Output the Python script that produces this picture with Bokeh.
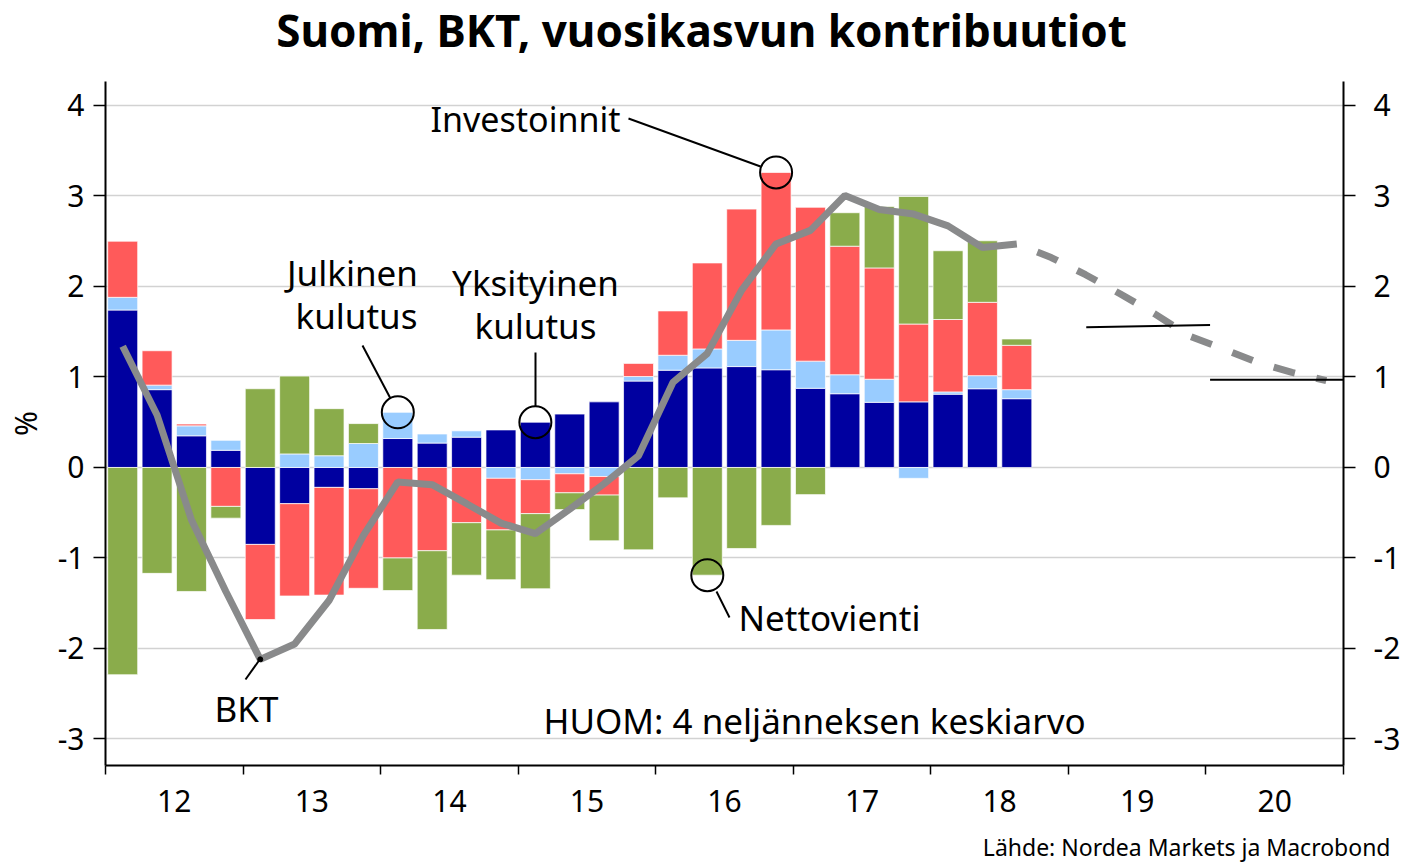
import numpy as np
from bokeh.plotting import figure
from bokeh.models import Range1d, LinearAxis, FixedTicker, Label, Grid, Title
from bokeh.layouts import column
from bokeh.embed import file_html
from bokeh.resources import INLINE

# ---------------- data ----------------
quarters = [f"{y}Q{q}" for y in range(2012, 2019) for q in range(1, 5)][:27]
yksityinen = [1.74, 0.86, 0.35, 0.19, -0.85, -0.40, -0.22, -0.235, 0.32, 0.27, 0.335, 0.415, 0.50,
              0.59, 0.725, 0.955, 1.075, 1.10, 1.115, 1.08, 0.875, 0.815, 0.72, 0.725, 0.81, 0.87, 0.76]
julkinen = [0.14, 0.05, 0.11, 0.11, 0.0, 0.15, 0.13, 0.265, 0.29, 0.10, 0.07, -0.12, -0.135,
            -0.07, -0.10, 0.05, 0.165, 0.21, 0.29, 0.44, 0.30, 0.21, 0.255, -0.12, 0.025, 0.145, 0.10]
investoinnit = [0.62, 0.38, 0.02, -0.43, -0.83, -1.02, -1.19, -1.10, -1.0, -0.92, -0.61, -0.57, -0.375,
                -0.21, -0.205, 0.145, 0.49, 0.95, 1.45, 1.74, 1.70, 1.42, 1.23, 0.86, 0.80, 0.81, 0.49]
nettovienti = [-2.29, -1.17, -1.37, -0.13, 0.87, 0.86, 0.52, 0.22, -0.36, -0.87, -0.58, -0.55, -0.83,
               -0.185, -0.505, -0.91, -0.335, -1.19, -0.895, -0.64, -0.30, 0.37, 0.68, 1.41, 0.76, 0.68, 0.07]
bkt = [1.34, 0.58, -0.58, -1.37, -2.12, -1.95, -1.47, -0.75, -0.16, -0.19, -0.40, -0.615, -0.73,
       -0.46, -0.18, 0.13, 0.94, 1.26, 1.96, 2.47, 2.62, 3.005, 2.85, 2.80, 2.67, 2.43, 2.47]
ennuste_quarters = ["2018Q3", "2018Q4", "2019Q1", "2019Q2", "2019Q3", "2019Q4",
                    "2020Q1", "2020Q2", "2020Q3", "2020Q4"]
bkt_ennuste = [2.47, 2.32, 2.13, 1.92, 1.70, 1.455, 1.31, 1.16, 1.05, 0.96]
vuosi_ennuste_vuosi = [2019, 2020]
vuosi_ennuste_alku = [1.55, 0.97]
vuosi_ennuste_loppu = [1.575, 0.97]
year_labels = ["12", "13", "14", "15", "16", "17", "18", "19", "20"]
y_ticks = [-3, -2, -1, 0, 1, 2, 3, 4]

TITLE = "Suomi, BKT, vuosikasvun kontribuutiot"
SOURCE = "Lähde: Nordea Markets ja Macrobond"


def qx(q):
    y, n = q.split("Q")
    return int(y) + (int(n) - 0.5) / 4.0


# ---------------- geometry (page pixels) ----------------
W, H = 1404, 865
TOP_H = 81          # title strip height
BOT_Y = 828         # start of source strip
X0, X1 = 2012.0, 2021.0
Y0, Y1 = -3.293, 4.265
FL, FR, FT, FB = 105, 1343, 81, 765


def dx(px):
    return X0 + (px - FL) / (FR - FL) * (X1 - X0)


def dy(py):
    return Y1 - (py - FT) / (FB - FT) * (Y1 - Y0)


FONT = "Noto Sans"
C_DARK = "#0000A0"
C_LIGHT = "#99CCFF"
C_RED = "#FF5A5A"
C_GREEN = "#8AAC4B"
C_GRAY = "#898A8B"


def strip(height, y_top):
    # frames in a column are aligned with the main chart frame, so x maps page pixels FL..FR
    f = figure(width=W, height=height, x_range=Range1d(FL, FR), y_range=Range1d(y_top + height, y_top),
               output_backend="svg", toolbar_location=None, x_axis_location=None, y_axis_location=None,
               min_border=0, min_border_left=FL, min_border_right=W - FR)
    f.outline_line_color = None
    f.xgrid.grid_line_color = None
    f.ygrid.grid_line_color = None
    return f


# title strip
top = strip(TOP_H, 0)
top.add_layout(Label(x=701, y=29, text=TITLE, text_align="center", text_baseline="middle",
                     text_font=FONT, text_font_size="44px", text_font_style="bold", text_color="black"))

# main chart
p = figure(width=W, height=BOT_Y - TOP_H, x_range=Range1d(X0, X1), y_range=Range1d(Y0, Y1),
           output_backend="svg", toolbar_location=None,
           x_axis_location=None, y_axis_location=None,
           min_border_left=FL, min_border_right=W - FR,
           min_border_top=FT - TOP_H, min_border_bottom=BOT_Y - FB)
p.outline_line_color = None
p.xgrid.grid_line_color = None
p.ygrid.grid_line_color = None

p.add_layout(Grid(dimension=1, ticker=FixedTicker(ticks=y_ticks),
                  grid_line_color="#d2d2d2", grid_line_width=1.5))

# stacked bars
xq = np.array([qx(q) for q in quarters])
bw = 0.218
pos = np.zeros(len(xq))
neg = np.zeros(len(xq))
for vals, col in [(yksityinen, C_DARK), (julkinen, C_LIGHT), (investoinnit, C_RED), (nettovienti, C_GREEN)]:
    v = np.array(vals, dtype=float)
    bottom = np.where(v >= 0, pos, neg)
    top_ = bottom + v
    pos = np.where(v >= 0, top_, pos)
    neg = np.where(v < 0, top_, neg)
    p.vbar(x=xq, width=bw, bottom=bottom, top=top_, fill_color=col,
           line_color="white", line_alpha=0.7, line_width=1)

# BKT line
p.line(xq, bkt, line_color=C_GRAY, line_width=7)
xe = [qx(q) for q in ennuste_quarters]
p.line(xe, bkt_ennuste, line_color=C_GRAY, line_width=7, line_dash="22 22", line_dash_offset=22)

# annual forecast segments
p.segment(x0=[vuosi_ennuste_vuosi[0] + 0.13, vuosi_ennuste_vuosi[1] + 0.03],
          y0=vuosi_ennuste_alku,
          x1=[vuosi_ennuste_vuosi[0] + 1.03, vuosi_ennuste_vuosi[1] + 1.0],
          y1=vuosi_ennuste_loppu, line_color="black", line_width=2)

# axes
xt = [2012.5 + i for i in range(len(year_labels))]
xaxis = LinearAxis(ticker=FixedTicker(ticks=xt, minor_ticks=list(range(2012, 2022))),
                   major_label_overrides={t: l for t, l in zip(xt, year_labels)},
                   major_tick_out=0, major_tick_in=0, minor_tick_out=9, minor_tick_in=0,
                   minor_tick_line_color="black", minor_tick_line_width=1.5,
                   axis_line_color="black", axis_line_width=2,
                   major_label_standoff=15,
                   major_label_text_font=FONT, major_label_text_font_size="30px",
                   major_label_text_color="black")
p.add_layout(xaxis, "below")

common = dict(ticker=FixedTicker(ticks=y_ticks), major_tick_out=12, major_tick_in=0,
              minor_tick_out=0, minor_tick_in=0, major_tick_line_color="black",
              major_tick_line_width=1.5, axis_line_color="black", axis_line_width=2,
              major_label_text_font=FONT, major_label_text_font_size="30px",
              major_label_text_color="black",
              major_label_overrides={t: str(t) for t in y_ticks})
laxis = LinearAxis(major_label_standoff=9, axis_label="%", axis_label_standoff=9,
                   axis_label_text_font=FONT, axis_label_text_font_size="30px",
                   axis_label_text_font_style="normal", axis_label_text_color="black", **common)
p.add_layout(laxis, "left")
raxis = LinearAxis(major_label_standoff=18, **common)
p.add_layout(raxis, "right")


# annotations (centre y given in page pixels)
def lab(text, px, py, align="left", size="35px"):
    p.add_layout(Label(x=dx(px), y=dy(py), text=text, text_align=align, text_baseline="middle",
                       text_font=FONT, text_font_size=size, text_color="black"))


lab("Julkinen", 352, 272, "center")
lab("kulutus", 356, 315, "center")
lab("Yksityinen", 535, 282, "center")
lab("kulutus", 535, 325, "center")
lab("Investoinnit", 620, 118, "right", "34px")
lab("Nettovienti", 738, 617, "left")
lab("BKT", 246, 708, "center")
lab("HUOM: 4 neljänneksen keskiarvo", 543, 720, "left")

# leader lines
p.segment(x0=[dx(362), dx(535), dx(628), dx(716), dx(260)],
          y0=[dy(345), dy(352), dy(118), dy(591), dy(658)],
          x1=[dx(390), dx(535), dx(760), dx(729), dx(245)],
          y1=[dy(398), dy(406), dy(166), dy(617), dy(679)],
          line_color="black", line_width=2)

# callout circles anchored on data values (stack ends)
i_j = quarters.index("2014Q1")
i_y = quarters.index("2015Q1")
i_i = quarters.index("2016Q4")
i_n = quarters.index("2016Q2")
cx = [xq[i_j], xq[i_y], xq[i_i], xq[i_n]]
cy = [yksityinen[i_j] + julkinen[i_j], yksityinen[i_y],
      yksityinen[i_i] + julkinen[i_i] + investoinnit[i_i],
      neg[i_n]]
p.scatter(cx, cy, marker="circle", size=32, fill_color=None, line_color="black", line_width=2)
i_b = quarters.index("2013Q1")
p.scatter([xq[i_b]], [bkt[i_b]], marker="circle", size=5, fill_color="black", line_color="black")

# source strip: the text runs past the frame's right edge, so it is a Title (not clipped)
bot = strip(H - BOT_Y, BOT_Y)
bot.add_layout(Title(text=SOURCE, align="right", offset=-47, standoff=0,
                     text_font=FONT, text_font_size="23px", text_font_style="normal",
                     text_color="black"), "above")

layout = column(top, p, bot, spacing=0)
open("out.html", "w").write(file_html(layout, INLINE))
